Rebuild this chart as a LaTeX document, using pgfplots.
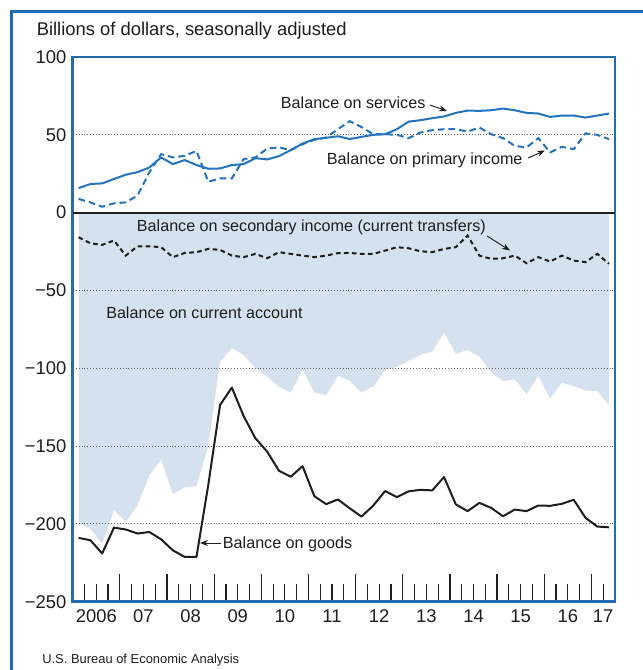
\documentclass[border=0pt]{standalone}
\usepackage{fontspec}
\setmainfont{Liberation Sans}
\usepackage{pgfplots}
\pgfplotsset{compat=1.18}
\usetikzlibrary{arrows.meta}
\definecolor{frameblue}{RGB}{35,108,178}
\definecolor{lineblue}{RGB}{35,115,190}
\definecolor{shade}{RGB}{213,225,238}
\definecolor{ink}{RGB}{30,30,30}
\newcommand\hdr{\fontsize{13.8}{16}\selectfont}
\newcommand\ann{\fontsize{12.1}{14}\selectfont}
\newcommand\src{\fontsize{9.7}{11}\selectfont}
\begin{document}
\begin{tikzpicture}
\fill[white] (0,0) rectangle (481.5pt,502.5pt);
\begin{axis}[
  at={(54.525pt,51.225pt)}, anchor=south west,
  scale only axis, width=406.7pt, height=408.5pt,
  xmin=-0.5, xmax=45.5, ymin=-250, ymax=100,
  no markers,
  axis line style={draw=frameblue, line width=2pt},
  ytick={-250,-200,-150,-100,-50,0,50,100},
  yticklabels={−250,−200,−150,−100,−50,0,50,100},
  ytick style={draw=none},
  xtick={3.5,7.5,11.5,15.5,19.5,23.5,27.5,31.5,35.5,39.5,43.5},
  xticklabels={},
  minor xtick={0.5,1.5,...,44.5},
  xtick pos=bottom, tick align=inside,
  major tick length=21pt, minor tick length=13.5pt,
  xtick style={draw=ink, line width=0.9pt},
  extra x ticks={1.5,5.5,9.5,13.5,17.5,21.5,25.5,29.5,33.5,37.5,41.5,44.5},
  extra x tick labels={2006,07,08,09,10,11,12,13,14,15,16,17},
  extra x tick style={major tick length=0pt, tick style={draw=none}, grid=none},
  ticklabel style={font=\hdr, text=ink},
  yticklabel style={inner sep=0pt, xshift=-4.5pt},
  xticklabel style={inner sep=0pt, yshift=-6pt},
]
% Balance on current account (shaded)
\addplot[fill=shade, draw=none] coordinates {
(0,0) (0,-199.8) (1,-203.0) (2,-212.7) (3,-191.2) (4,-198.7) (5,-188.0) (6,-168.7) (7,-158.6)
(8,-180.9) (9,-176.6) (10,-175.5) (11,-150.0) (12,-95.7) (13,-87.1) (14,-91.4) (15,-100.0)
(16,-105.4) (17,-111.8) (18,-115.7) (19,-100.6) (20,-115.7) (21,-117.2) (22,-104.9) (23,-108.0)
(24,-115.5) (25,-111.8) (26,-101.1) (27,-98.9) (28,-95.3) (29,-91.4) (30,-89.2) (31,-77.0)
(32,-90.8) (33,-88.2) (34,-92.5) (35,-102.8) (36,-108.2) (37,-107.1) (38,-116.6) (39,-104.9)
(40,-119.4) (41,-109.2) (42,-111.4) (43,-114.4) (44,-114.6) (45,-123.7) (45,0)} \closedcycle;
% dotted grid lines
\foreach \g in {50,-50,-100,-150,-200}{
  \edef\tmp{\noexpand\draw[draw=black!60, line width=0.6pt, dash pattern=on 0.6pt off 1.6pt] (axis cs:-0.5,\g) -- (axis cs:45.5,\g);}\tmp
}
% Balance on services
\addplot[lineblue, line width=1.5pt, line join=round] coordinates {
(0,15.8) (1,18.4) (2,18.8) (3,21.6) (4,24.4) (5,26.0) (6,29.0) (7,35.5) (8,31.2) (9,33.8)
(10,30.6) (11,28.2) (12,28.4) (13,30.6) (14,31.2) (15,35.0) (16,34.2) (17,36.3) (18,40.2)
(19,44.4) (20,47.2) (21,48.1) (22,49.1) (23,47.3) (24,48.7) (25,50.0) (26,50.4) (27,53.6)
(28,58.5) (29,59.4) (30,60.7) (31,61.8) (32,64.1) (33,65.6) (34,65.4) (35,65.8) (36,66.9)
(37,65.8) (38,64.1) (39,63.7) (40,61.5) (41,62.4) (42,62.4) (43,61.1) (44,62.4) (45,63.7)};
% Balance on primary income
\addplot[lineblue, line width=1.5pt, dash pattern=on 5pt off 3pt] coordinates {
(0,8.8) (1,6.6) (2,3.8) (3,6.0) (4,6.6) (5,11.0) (6,25.9) (7,37.6) (8,35.5) (9,36.5)
(10,39.7) (11,19.9) (12,22.0) (13,22.0) (14,34.4) (15,35.5) (16,41.2) (17,41.9) (18,40.2)
(19,44.0) (20,46.8) (21,48.3) (22,53.6) (23,58.8) (24,55.0) (25,50.4) (26,50.4) (27,50.0)
(28,47.9) (29,51.5) (30,53.0) (31,53.6) (32,53.6) (33,52.1) (34,54.7) (35,50.4) (36,47.9)
(37,42.9) (38,41.9) (39,47.9) (40,38.7) (41,42.3) (42,40.8) (43,50.9) (44,50.0) (45,47.2)};
% Balance on secondary income
\addplot[ink, line width=1.5pt, dash pattern=on 3.5pt off 2.5pt] coordinates {
(0,-15.8) (1,-19.7) (2,-20.7) (3,-17.9) (4,-27.6) (5,-21.6) (6,-21.6) (7,-22.2) (8,-28.6)
(9,-25.9) (10,-25.4) (11,-23.3) (12,-23.9) (13,-27.6) (14,-28.6) (15,-26.5) (16,-29.3)
(17,-25.4) (18,-26.5) (19,-27.6) (20,-28.6) (21,-27.6) (22,-26.0) (23,-25.9) (24,-26.5)
(25,-26.5) (26,-24.4) (27,-22.2) (28,-22.9) (29,-24.8) (30,-25.4) (31,-23.3) (32,-22.2)
(33,-14.7) (34,-27.6) (35,-29.7) (36,-29.3) (37,-27.6) (38,-32.5) (39,-28.6) (40,-31.4)
(41,-27.6) (42,-30.8) (43,-31.8) (44,-26.5) (45,-32.9)};
% Balance on goods
\addplot[ink, line width=1.5pt, line join=round] coordinates {
(0,-209.0) (1,-210.5) (2,-219.0) (3,-202.4) (4,-203.6) (5,-206.2) (6,-205.2) (7,-209.9)
(8,-217.0) (9,-221.2) (10,-221.2) (11,-175.0) (12,-123.6) (13,-112.4) (14,-130.7) (15,-145.0)
(16,-153.6) (17,-165.9) (18,-169.7) (19,-162.9) (20,-182.2) (21,-187.3) (22,-184.3) (23,-190.0)
(24,-195.3) (25,-188.2) (26,-178.9) (27,-182.8) (28,-179.1) (29,-178.1) (30,-178.5) (31,-169.9)
(32,-187.5) (33,-191.8) (34,-186.5) (35,-189.7) (36,-195.1) (37,-190.8) (38,-191.8) (39,-188.2)
(40,-188.4) (41,-187.1) (42,-184.5) (43,-196.1) (44,-201.7) (45,-202.2)};
\draw[ink, line width=1.3pt] (axis cs:-0.5,0) -- (axis cs:45.5,0);
\end{axis}
\begin{scope}[shift={(0,502.5pt)}, x=0.75pt, y=-0.75pt, text=ink]
\draw[frameblue, line width=2.2pt] (11.7,672) -- (11.7,11.7) -- (644,11.7);
\node[anchor=base west, inner sep=0pt, font=\hdr] at (36.5,36) {Billions of dollars, seasonally adjusted};
\tikzset{arr/.style={-{Stealth[length=6pt,width=4.5pt]}, draw=ink, line width=0.7pt}}
\node[anchor=base west, inner sep=0pt, font=\ann] at (280.7,108.5) {Balance on services};
\draw[arr] (430,105) -- (447,111);
\node[anchor=base west, inner sep=0pt, font=\ann] at (326.7,165) {Balance on primary income};
\draw[arr] (528,158) -- (545,150.5);
\node[anchor=base west, inner sep=0pt, font=\ann] at (136.7,232) {Balance on secondary income (current transfers)};
\draw[arr] (487,236) -- (510,250.5);
\node[anchor=base west, inner sep=0pt, font=\ann] at (106,319) {Balance on current account};
\node[anchor=base west, inner sep=0pt, font=\ann] at (222.7,548.5) {Balance on goods};
\draw[arr] (221,543) -- (200,543);
\node[anchor=base west, inner sep=0pt, font=\src] at (42,663) {U.S. Bureau of Economic Analysis};
\end{scope}
\pgfresetboundingbox
\path[use as bounding box] (0,0) rectangle (481.5pt,502.5pt);
\end{tikzpicture}
\end{document}
